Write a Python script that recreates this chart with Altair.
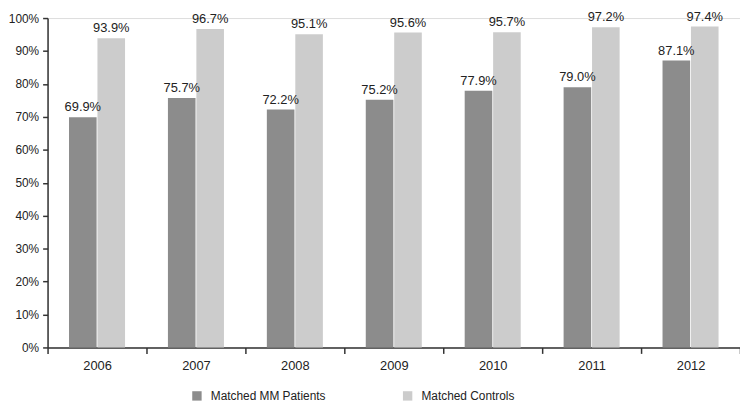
import altair as alt
import pandas as pd

years = ["2006", "2007", "2008", "2009", "2010", "2011", "2012"]
mm_patients = [69.9, 75.7, 72.2, 75.2, 77.9, 79.0, 87.1]
controls = [93.9, 96.7, 95.1, 95.6, 95.7, 97.2, 97.4]
series = ["Matched MM Patients", "Matched Controls"]
colors = ["#8c8c8c", "#cccccc"]

rows = []
for i, y in enumerate(years):
    rows.append({"year": y, "series": series[0], "value": mm_patients[i] / 100,
                 "label": f"{mm_patients[i]:.1f}%"})
    rows.append({"year": y, "series": series[1], "value": controls[i] / 100,
                 "label": f"{controls[i]:.1f}%"})
df = pd.DataFrame(rows)

font = "Liberation Sans"

x = alt.X("year:N", sort=years, title=None,
          scale=alt.Scale(paddingInner=0, paddingOuter=0),
          axis=alt.Axis(labelAngle=0, labelFontSize=13, labelColor="#222",
                        labelFont=font, labelPadding=6, tickBand="extent",
                        domainColor="#333", tickColor="#333", tickSize=6,
                        domainWidth=1.5, tickWidth=1.5, grid=False))
xo = alt.XOffset("series:N", sort=series,
                 scale=alt.Scale(paddingInner=0.03, paddingOuter=0.754))
y = alt.Y("value:Q", title=None,
          scale=alt.Scale(domain=[0, 1], nice=False),
          axis=alt.Axis(format=".0%", values=[i / 10 for i in range(11)],
                        labelFontSize=12, labelColor="#222", labelFont=font,
                        labelPadding=4, domainColor="#333", tickColor="#333",
                        tickSize=5, domainWidth=1.5, tickWidth=1.5, grid=False))

bars = alt.Chart(df).mark_bar().encode(
    x=x, xOffset=xo, y=y,
    color=alt.Color("series:N", sort=series,
                    scale=alt.Scale(domain=series, range=colors),
                    legend=alt.Legend(title=None, orient="none", direction="horizontal",
                                      legendX=145, legendY=376,
                                      symbolType="square", symbolSize=90,
                                      symbolStrokeWidth=0,
                                      labelFontSize=12, labelFont=font,
                                      labelColor="#222", columnPadding=76,
                                      labelOffset=8)),
)

labels = alt.Chart(df).mark_text(dy=-6, fontSize=13, font=font, color="#222",
                                 baseline="alphabetic").encode(
    x=x, xOffset=xo, y=y, text="label:N"
)

chart = (bars + labels).properties(
    width=700, height=333,
    autosize=alt.AutoSizeParams(type="none"),
    padding={"left": 40, "top": 8, "right": 0, "bottom": 54},
).configure_view(stroke=None).configure(background="white")

chart.save("out.html", embed_options={"renderer": "svg", "actions": False})
